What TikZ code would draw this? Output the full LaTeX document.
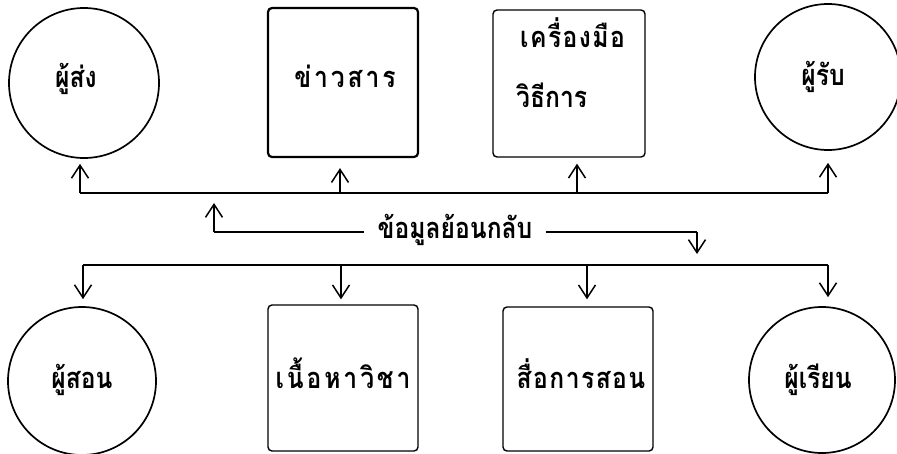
\documentclass[tikz,border=0pt]{standalone}
\usepackage{fontspec}
\newfontfamily\thaifont[Script=Thai,FakeStretch=0.85]{Loma}
\newfontfamily\thaiwide[Script=Thai,FakeStretch=0.85,LetterSpace=10]{Loma}
\newfontfamily\thaimid[Script=Thai,FakeStretch=0.85,LetterSpace=5]{Loma}
\usetikzlibrary{arrows.meta}
\begin{document}
\begin{tikzpicture}[x=1pt,y=-1pt,
  circnode/.style={draw,circle,line width=1.7pt,inner sep=0pt},
  boxnode/.style={draw,rectangle,rounded corners=4pt,line width=1.4pt,inner sep=0pt},
  lbl/.style={font=\thaifont\bfseries\fontsize{29pt}{33pt}\selectfont,inner sep=0pt},
  wlbl/.style={font=\thaiwide\bfseries\fontsize{29pt}{33pt}\selectfont,inner sep=0pt},
  mlbl/.style={font=\thaimid\bfseries\fontsize{29pt}{33pt}\selectfont,inner sep=0pt},
  ln/.style={line width=1.5pt},
  arr/.style={line width=1.5pt,-{Straight Barb[length=13pt,width=17pt]}}
]
\useasboundingbox (0,0) rectangle (897,453);
\fill[white] (0,0) rectangle (897,453);
% shapes
\node[circnode,minimum size=150pt] (sender) at (84,83) {};
\node[boxnode,line width=2.2pt,minimum width=150pt,minimum height=149pt] (msg) at (343,82.5) {};
\node[boxnode,minimum width=152pt,minimum height=147pt] (tool) at (569,83.5) {};
\node[circnode,minimum size=146pt] (recv) at (828,77) {};
\node[circnode,minimum size=148pt] (teacher) at (82,381) {};
\node[boxnode,minimum width=150pt,minimum height=146pt] (content) at (343,378) {};
\node[boxnode,minimum width=150pt,minimum height=144pt] (media) at (578,379) {};
\node[circnode,minimum size=146pt] (learner) at (822,380) {};
% labels
\node[lbl,anchor=base] (tsender) at (76,87) {ผู้ส่ง};
\node[wlbl,anchor=base] (tmsg) at (345,87) {ข่าวสาร};
\node[mlbl,anchor=base west] (ttool1) at (520,47) {เครื่องมือ};
\node[lbl,anchor=base west] (ttool2) at (516,107) {วิธีการ};
\node[lbl,anchor=base] (trecv) at (823,85) {ผู้รับ};
\node[lbl,anchor=base] (tteacher) at (82,388) {ผู้สอน};
\node[wlbl,anchor=base] (tcontent) at (343,388) {เนื้อหาวิชา};
\node[mlbl,anchor=base] (tmedia) at (581,388) {สื่อการสอน};
\node[lbl,anchor=base] (tlearner) at (818,388) {ผู้เรียน};
% top bus
\coordinate (bt1) at (80,193);
\coordinate (bt2) at (340,193);
\coordinate (bt3) at (577,193);
\coordinate (bt4) at (828,193);
\draw[ln] (bt1) -- (bt4);
\draw[arr,shorten >=5pt] (bt1) -- (bt1 |- sender.south);
\draw[arr,shorten >=10pt] (bt2) -- (bt2 |- msg.south);
\draw[arr,shorten >=6pt] (bt3) -- (bt3 |- tool.south);
\draw[arr,shorten >=12pt] (bt4) -- (bt4 |- recv.south);
% feedback
\node[lbl,anchor=base,inner xsep=13pt] (fbtxt) at (455,238) {ข้อมูลย้อนกลับ};
\coordinate (fb1) at (214,232);
\coordinate (fbup) at (214,203);
\coordinate (fb2) at (697,232);
\coordinate (fbdown) at (697,254);
\draw[ln] (fbtxt.west |- fb1) -- (fb1);
\draw[arr] (fb1) -- (fbup);
\draw[ln] (fbtxt.east |- fb2) -- (fb2);
\draw[arr] (fb2) -- (fbdown);
% bottom bus
\coordinate (bb1) at (83,265);
\coordinate (bb2) at (341,265);
\coordinate (bb3) at (587,265);
\coordinate (bb4) at (828,265);
\draw[ln] (bb1) -- (bb4);
\draw[arr,shorten >=7pt] (bb1) -- (bb1 |- teacher.north);
\draw[arr,shorten >=5pt] (bb2) -- (bb2 |- content.north);
\draw[arr,shorten >=7pt] (bb3) -- (bb3 |- media.north);
\draw[arr,shorten >=9pt] (bb4) -- (bb4 |- learner.north);
\end{tikzpicture}
\end{document}
